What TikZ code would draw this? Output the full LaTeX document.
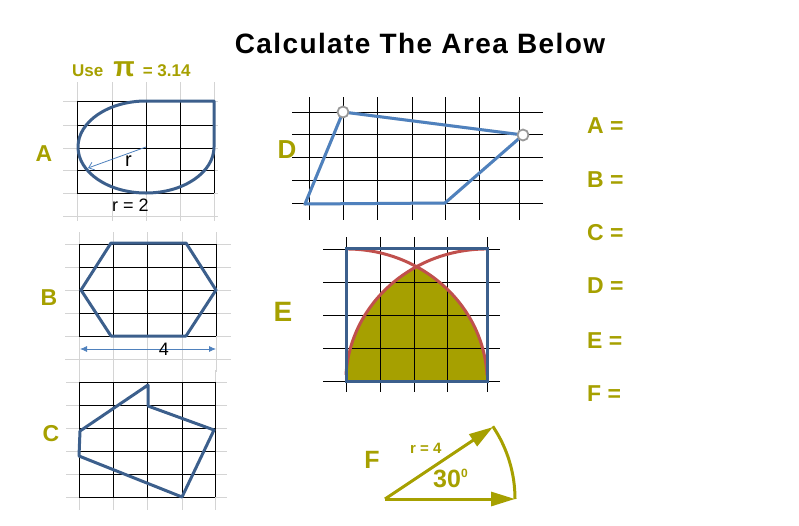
\documentclass[tikz,border=0pt]{standalone}
\usepackage{fontspec}
\setmainfont{Liberation Sans}
\usetikzlibrary{arrows.meta}
\definecolor{Olive}{RGB}{166,160,0}
\definecolor{ShapeBlue}{RGB}{60,95,140}
\definecolor{LightBlue}{RGB}{79,129,189}
\definecolor{ArcRed}{RGB}{192,80,77}
\definecolor{GridGray}{RGB}{212,212,212}

\begin{document}
\begin{tikzpicture}[x=1pt, y=-1pt,
	gridgray/.style={GridGray, line width=1pt},
	gridblack/.style={black, line width=0.9pt},
	blueoutline/.style={ShapeBlue, line width=3pt, line join=round},
	figlabel/.style={Olive, font=\bfseries\fontsize{23}{23}\selectfont, anchor=base},
	answer/.style={Olive, font=\bfseries\fontsize{23}{23}\selectfont, anchor=base west, inner sep=0},
	olivearrow/.style={Olive, line width=3pt, -{Triangle[length=24pt, width=14pt]}}]
	\useasboundingbox (0,0) rectangle (799,525);
	% title and hint
	\node[font=\bfseries\fontsize{28}{28}\selectfont\addfontfeature{LetterSpace=5}, anchor=base] (title) at (420,53) {Calculate The Area Below};
	\node[Olive, font=\bfseries\fontsize{17}{17}\selectfont, anchor=base west, inner sep=0] (hint) at (72,76)
		{Use\hspace{10pt}{\fontsize{28}{28}\selectfont π}\hspace{8pt}= 3.14};
	% A
	\foreach \x in {77,112,146,180,214} \draw[gridgray] (\x,82) -- (\x,221);
	\foreach \y in {101,125,148,170,193,216} \draw[gridgray] (63,\y) -- (218,\y);
	\foreach \x in {77,112,146,180,214} \draw[gridblack] (\x,101) -- (\x,193);
	\foreach \y in {101,125,148,170,193} \draw[gridblack] (77,\y) -- (214,\y);
	\draw[blueoutline] (146,101) -- (214,101) -- (214,147)
		arc[start angle=0, end angle=270, x radius=68, y radius=46] -- cycle;
	\coordinate (centerA) at (146,147);
	\coordinate (rimA) at (88,168);
	\draw[LightBlue, line width=0.8pt, -{Straight Barb[length=5pt, width=8pt]}] (centerA) -- (rimA);
	\node[font=\fontsize{20}{20}\selectfont, anchor=base west, inner sep=0] (rA) at (125,166.5) {r};
	\node[font=\fontsize{18}{18}\selectfont, anchor=base west, inner sep=0] (radiusA) at (112,211.5) {r = 2};
	\node[figlabel] (labA) at (44,161.5) {A};
	% B
	\foreach \x in {79,113,147,182,216} \draw[gridgray] (\x,232) -- (\x,372);
	\foreach \y in {244,267,290,313,336,359} \draw[gridgray] (65,\y) -- (231,\y);
	\foreach \x in {79,113,147,182,216} \draw[gridblack] (\x,244) -- (\x,336);
	\foreach \y in {244,267,290,313,336} \draw[gridblack] (79,\y) -- (216,\y);
	\draw[blueoutline] (111,243) -- (186,243) -- (216,290) -- (186,336) -- (111,336) -- (81,290) -- cycle;
	\coordinate (dimL) at (80,349);
	\coordinate (dimR) at (216,349);
	\draw[LightBlue, line width=0.8pt, {Latex[length=7pt, width=6pt]}-{Latex[length=7pt, width=6pt]}] (dimL) -- (dimR);
	\node[font=\fontsize{18}{18}\selectfont, anchor=base, inner sep=0] (widthB) at (164,355) {4};
	\node[figlabel] (labB) at (49,305) {B};
	% C
	\foreach \x in {79,113,147,182,215} \draw[gridgray] (\x,370) -- (\x,510);
	\foreach \y in {382,405,428,451,474,497} \draw[gridgray] (66,\y) -- (227,\y);
	\foreach \x in {79,113,147,182,215} \draw[gridblack] (\x,382) -- (\x,497);
	\foreach \y in {382,405,428,451,474,497} \draw[gridblack] (79,\y) -- (215,\y);
	\draw[blueoutline] (80,431) -- (148,385) -- (148,406) -- (214,430) -- (182,497) -- (79,456) -- cycle;
	\node[figlabel] (labC) at (51,441.5) {C};
	% D
	\foreach \x in {309,343,377,412,445,479,519} \draw[gridblack] (\x,97) -- (\x,220);
	\foreach \y in {112,134,157,180,203} \draw[gridblack] (292,\y) -- (543,\y);
	\coordinate (D1) at (343,112);
	\coordinate (D2) at (523,135);
	\coordinate (D3) at (445,203);
	\coordinate (D4) at (305,204);
	\draw[gray!40, line width=3pt, opacity=0.6, shift={(1.5,2)}] (D1) -- (D2) -- (D3) -- (D4) -- cycle;
	\draw[LightBlue, line width=3pt, line join=round] (D1) -- (D2) -- (D3) -- (D4) -- cycle;
	\node[circle, draw=gray!80, fill=white, line width=1.8pt, minimum size=11pt, inner sep=0] (pD1) at (D1) {};
	\node[circle, draw=gray!80, fill=white, line width=1.8pt, minimum size=11pt, inner sep=0] (pD2) at (D2) {};
	\node[figlabel, font=\bfseries\fontsize{26}{26}\selectfont] (labD) at (287,158.5) {D};
	% E
	\fill[Olive] (346,381) arc[start angle=180, end angle=240, x radius=141, y radius=133]
		arc[start angle=-60, end angle=0, x radius=141, y radius=133] -- cycle;
	\foreach \x in {346,380,414,447,487} \draw[gridblack] (\x,237) -- (\x,392);
	\foreach \y in {249,282,315,348,381} \draw[gridblack] (323,\y) -- (500,\y);
	\draw[ArcRed, line width=3pt] (346,375) arc[start angle=183, end angle=270, x radius=141, y radius=133];
	\draw[ArcRed, line width=3pt] (487,375) arc[start angle=-3, end angle=-90, x radius=141, y radius=133];
	\draw[ShapeBlue, line width=3pt] (346,248) rectangle (487,381);
	\node[figlabel, font=\bfseries\fontsize{28}{28}\selectfont] (labE) at (283,321) {E};
	% F
	\coordinate (Fo) at (385,499);
	\coordinate (Fa) at (515,499);
	\coordinate (Fb) at (493,427);
	\draw[Olive, line width=3pt] (Fa) arc[start angle=0, end angle=-34, radius=130];
	\draw[olivearrow] (Fo) -- (Fa);
	\draw[olivearrow] (Fo) -- (Fb);
	\node[Olive, font=\bfseries\fontsize{15}{15}\selectfont, anchor=base west, inner sep=0] (rF) at (410,453) {r = 4};
	\node[Olive, font=\bfseries\fontsize{25}{25}\selectfont, anchor=base west, inner sep=0] (angF) at (433,487.5)
		{30\raisebox{10pt}{\fontsize{12}{12}\selectfont 0}};
	\node[figlabel, font=\bfseries\fontsize{25}{25}\selectfont] (labF) at (372,468) {F};
	% answers
	\node[answer] (ansA) at (587,133) {A =};
	\node[answer] (ansB) at (587,187) {B =};
	\node[answer] (ansC) at (587,240) {C =};
	\node[answer] (ansD) at (587,293.5) {D =};
	\node[answer] (ansE) at (587,348) {E =};
	\node[answer] (ansF) at (587,401.5) {F =};
\end{tikzpicture}
\end{document}
